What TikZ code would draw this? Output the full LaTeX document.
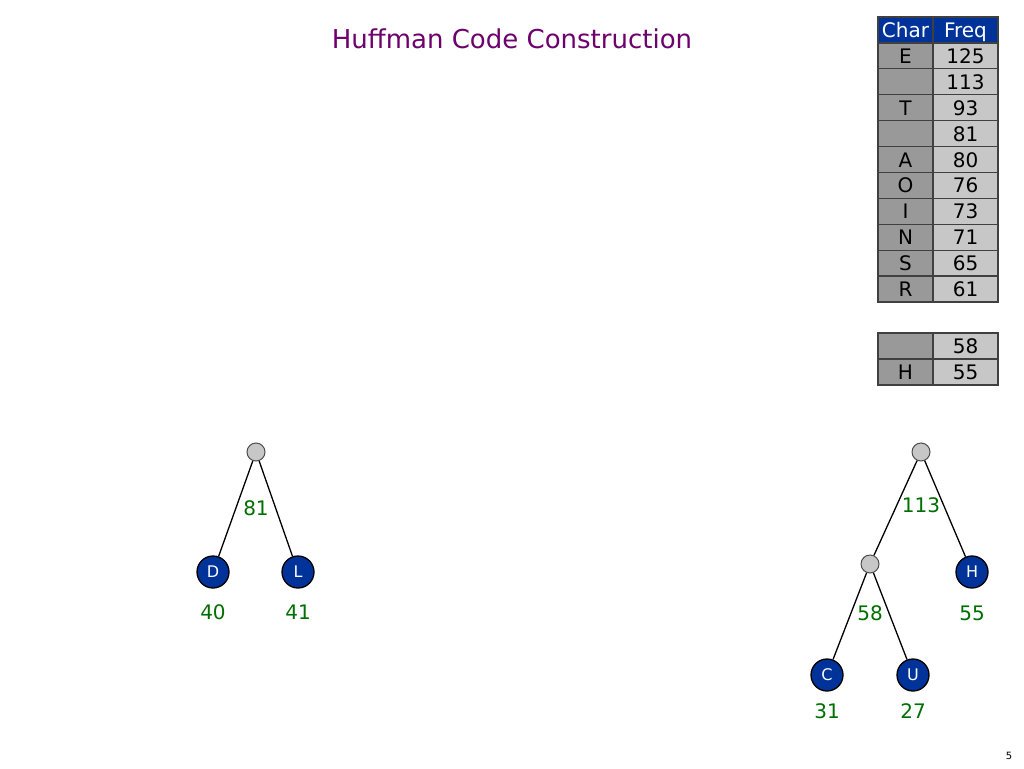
\documentclass[tikz,border=0pt]{standalone}
\usepackage{fontspec}
\setmainfont{DejaVu Sans}
\definecolor{hblue}{RGB}{0,51,153}
\definecolor{hgreen}{RGB}{0,110,0}
\definecolor{htitle}{RGB}{110,0,110}
\begin{document}
\begin{tikzpicture}[x=1pt, y=-1pt,
    leaf/.style={circle, draw=black, line width=1.3, fill=hblue, text=white, minimum size=32, inner sep=0, font=\fontsize{16}{16}\selectfont},
    inner/.style={circle, draw=black!70, line width=1, fill=black!22, minimum size=18, inner sep=0},
    edge/.style={line width=1.3},
    wt/.style={text=hgreen, font=\fontsize{20}{20}\selectfont},
    cell/.style={rectangle, draw=black!75, line width=1.2, minimum width=55, minimum height=26, inner sep=0, text height=17, text depth=2, font=\fontsize{20}{20}\selectfont},
    charcell/.style={cell, fill=black!40},
    freqcell/.style={cell, fill=black!22, minimum width=65},
    headcell/.style={cell, fill=hblue, text=white}]
    \useasboundingbox (0,0) rectangle (1024,768);

    % Title
    \node[text=htitle, font=\fontsize{26}{26}\selectfont] (title) at (512,39) {Huffman Code Construction};

    % Frequency table
    \node[headcell] (hc) at (905.5,30) {Char};
    \node[headcell, minimum width=65] (hf) at (965.5,30) {Freq};
    \foreach \ch/\fr [count=\i] in {E/125, /113, T/93, /81, A/80, O/76, I/73, N/71, S/65, R/61} {
        \node[charcell] (c\i) at (905.5, {43+25.9*(\i-0.5)}) {\ch};
        \node[freqcell] (f\i) at (965.5, {43+25.9*(\i-0.5)}) {\fr};
    }

    % Pending entries
    \node[charcell] (c11) at (905.5,346) {};
    \node[freqcell] (f11) at (965.5,346) {58};
    \node[charcell] (c12) at (905.5,372) {H};
    \node[freqcell] (f12) at (965.5,372) {55};

    % Tree for 81
    \node[inner] (r81) at (256,452) {};
    \node[leaf] (d) at (213,572) {D};
    \node[leaf] (l) at (298,572) {L};
    \draw[edge] (r81) -- (d);
    \draw[edge] (r81) -- (l);
    \node[wt] (w81) at (256,508) {81};
    \node[wt] (w40) at (213,612) {40};
    \node[wt] (w41) at (298,612) {41};

    % Tree for 113
    \node[inner] (r113) at (921,452) {};
    \node[inner] (r58) at (870,564) {};
    \node[leaf] (h) at (972,572) {H};
    \node[leaf] (c) at (827,675) {C};
    \node[leaf] (u) at (913,675) {U};
    \draw[edge] (r113) -- (r58);
    \draw[edge] (r113) -- (h);
    \draw[edge] (r58) -- (c);
    \draw[edge] (r58) -- (u);
    \node[wt] (w113) at (921,505) {113};
    \node[wt] (w58) at (870,613) {58};
    \node[wt] (w55) at (972,613) {55};
    \node[wt] (w31) at (827,711) {31};
    \node[wt] (w27) at (913,711) {27};

    % Page number
    \node[font=\fontsize{10}{10}\selectfont] (pg) at (1009,756) {5};
\end{tikzpicture}
\end{document}
